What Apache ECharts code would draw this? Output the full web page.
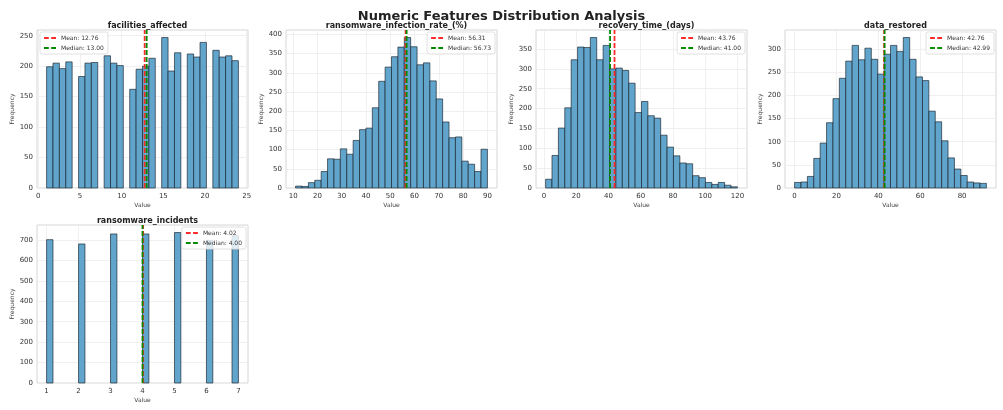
<!DOCTYPE html>
<html>
<head>
<meta charset="utf-8">
<script src="https://cdn.jsdelivr.net/npm/echarts@6/dist/echarts.min.js"></script>
<style>
  html, body { margin: 0; padding: 0; background: #fff; }
  #chart { width: 1003px; height: 410px; }
</style>
</head>
<body>
<div id="chart"></div>
<script>
// panel names
var panelNames = ['facilities_affected', 'ransomware_infection_rate_(%)', 'recovery_time_(days)', 'data_restored', 'ransomware_incidents'];

// histogram counts, 30 bins each
var facilitiesCounts = [199, 205, 196, 207, 0, 183, 205, 206, 0, 217, 205, 201, 0, 162, 195, 200, 213, 0, 247, 192, 222, 0, 220, 215, 239, 0, 226, 215, 217, 209];
var infectionCounts = [5, 4, 14, 20, 43, 76, 75, 102, 88, 124, 152, 156, 209, 278, 315, 342, 367, 392, 368, 321, 326, 279, 232, 172, 131, 133, 70, 62, 43, 101];
var recoveryCounts = [22, 82, 151, 202, 323, 355, 354, 379, 323, 359, 300, 302, 296, 264, 190, 218, 182, 176, 133, 103, 81, 63, 61, 31, 26, 14, 9, 14, 7, 3];
var restoredCounts = [12, 13, 25, 64, 97, 141, 193, 237, 274, 308, 277, 302, 278, 246, 289, 308, 295, 325, 278, 240, 232, 166, 143, 102, 65, 41, 27, 13, 11, 10];
var incidentsCounts = [702, 0, 0, 0, 0, 681, 0, 0, 0, 0, 730, 0, 0, 0, 0, 730, 0, 0, 0, 0, 737, 0, 0, 0, 0, 699, 0, 0, 0, 721];

// value range covered by the bins
var binRanges = [[1, 24], [11, 90], [1, 120], [0, 91.6], [1, 7]];

// mean / median
var means = [12.76, 56.31, 43.76, 42.76, 4.02];
var medians = [13.00, 56.73, 41.00, 42.99, 4.00];

// tick labels
var xTicks = [[0, 5, 10, 15, 20, 25], [10, 20, 30, 40, 50, 60, 70, 80, 90], [0, 20, 40, 60, 80, 100, 120], [0, 20, 40, 60, 80], [1, 2, 3, 4, 5, 6, 7]];
var yTicks = [[0, 50, 100, 150, 200, 250], [0, 50, 100, 150, 200, 250, 300, 350, 400], [0, 50, 100, 150, 200, 250, 300, 350], [0, 50, 100, 150, 200, 250, 300], [0, 100, 200, 300, 400, 500, 600, 700]];

var allCounts = [facilitiesCounts, infectionCounts, recoveryCounts, restoredCounts, incidentsCounts];

// layout of the panels
var boxes = [
    {left: 37, top: 30},
    {left: 286, top: 30},
    {left: 536, top: 30},
    {left: 785, top: 30},
    {left: 37, top: 225}
];
var boxW = 211, boxH = 158;

// dashed line used as legend icon
var dashIcon = 'path://M0,0h5v2h-5z M7.5,0h5v2h-5z';

var chart = echarts.init(document.getElementById('chart'), null, {renderer: 'canvas'});

var option = {
    backgroundColor: '#fff',
    animation: false,
    title: [{
        text: 'Numeric Features Distribution Analysis',
        left: 'center', top: 5,
        textStyle: {fontFamily: 'DejaVu Sans', fontSize: 13, fontWeight: 'bold', color: '#222'}
    }],
    grid: [], xAxis: [], yAxis: [], legend: [], series: []
};

allCounts.forEach(function (counts, i) {
    var lo = binRanges[i][0], hi = binRanges[i][1];
    var n = counts.length, w = (hi - lo) / n;
    var m = 0.05 * (hi - lo);
    var ymax = Math.max.apply(null, counts) * 1.05;
    var b = boxes[i];

    var bins = counts.map(function (c, k) {
        return [lo + k * w, lo + (k + 1) * w, c];
    });

    option.title.push({
        text: panelNames[i],
        left: b.left + boxW / 2, top: b.top - 13, textAlign: 'center',
        textStyle: {fontFamily: 'DejaVu Sans', fontSize: 8, fontWeight: 'bold', color: '#222'}
    });

    option.grid.push({
        left: b.left, top: b.top, width: boxW, height: boxH,
        show: true, backgroundColor: '#fff', borderColor: '#d6d6d6', borderWidth: 1,
        outerBoundsMode: 'none'
    });

    option.xAxis.push({
        type: 'value', gridIndex: i, min: lo - m, max: hi + m,
        name: 'Value', nameLocation: 'middle', nameGap: 14,
        nameTextStyle: {fontFamily: 'DejaVu Sans', fontSize: 6, color: '#444'},
        axisLine: {show: false},
        axisTick: {show: false, customValues: xTicks[i]},
        axisLabel: {customValues: xTicks[i], fontFamily: 'DejaVu Sans', fontSize: 7, color: '#333', margin: 5},
        splitLine: {show: true, lineStyle: {color: '#ececec', width: 0.8}}
    });

    option.yAxis.push({
        type: 'value', gridIndex: i, min: 0, max: ymax,
        name: 'Frequency', nameLocation: 'middle', nameGap: i === 4 ? 21 : 19,
        nameTextStyle: {fontFamily: 'DejaVu Sans', fontSize: 6, color: '#444'},
        axisLine: {show: false},
        axisTick: {show: false, customValues: yTicks[i]},
        axisLabel: {customValues: yTicks[i], fontFamily: 'DejaVu Sans', fontSize: 7, color: '#333', margin: 4},
        splitLine: {show: true, lineStyle: {color: '#ececec', width: 0.8}}
    });

    option.series.push({
        type: 'custom', xAxisIndex: i, yAxisIndex: i,
        data: bins,
        encode: {x: [0, 1], y: 2},
        renderItem: function (params, api) {
            if (!api.value(2)) return null;
            var p0 = api.coord([api.value(0), api.value(2)]);
            var p1 = api.coord([api.value(1), 0]);
            return {
                type: 'rect',
                shape: {x: p0[0], y: p0[1], width: p1[0] - p0[0], height: p1[1] - p0[1]},
                style: {fill: '#61a5cc', stroke: 'rgba(20,30,40,0.8)', lineWidth: 0.8}
            };
        },
        z: 2
    });

    var meanName = 'Mean: ' + means[i].toFixed(2);
    var medName = 'Median: ' + medians[i].toFixed(2);
    // legend names must be unique per chart
    var tagMean = meanName + '\u200b'.repeat(i);
    var tagMed = medName + '\u200b'.repeat(i);

    option.series.push({
        name: tagMean, type: 'line', xAxisIndex: i, yAxisIndex: i,
        data: [[means[i], 0], [means[i], ymax]],
        symbol: 'none', color: '#ff2a2a',
        lineStyle: {color: '#ff2a2a', width: 1.8, type: [5, 2]},
        z: 4
    });
    option.series.push({
        name: tagMed, type: 'line', xAxisIndex: i, yAxisIndex: i,
        data: [[medians[i], 0], [medians[i], ymax]],
        symbol: 'none', color: '#008a00',
        lineStyle: {color: '#008a00', width: 1.8, type: [5, 2]},
        z: 5
    });

    var lg = {
        data: [tagMean, tagMed],
        orient: 'vertical',
        top: b.top + 2,
        icon: dashIcon,
        itemWidth: 12, itemHeight: 2, itemGap: 4,
        padding: [3, 4, 3, 4],
        backgroundColor: 'rgba(255,255,255,0.8)',
        borderColor: '#d8d8d8', borderWidth: 0.8, borderRadius: 2,
        selectedMode: false,
        textStyle: {fontFamily: 'DejaVu Sans', fontSize: 6, color: '#333'},
        z: 10
    };
    if (i === 0) {
        lg.left = b.left + 3;
    } else {
        lg.right = 1003 - (b.left + boxW) + 2;
    }
    option.legend.push(lg);
});

chart.setOption(option);
</script>
</body>
</html>
